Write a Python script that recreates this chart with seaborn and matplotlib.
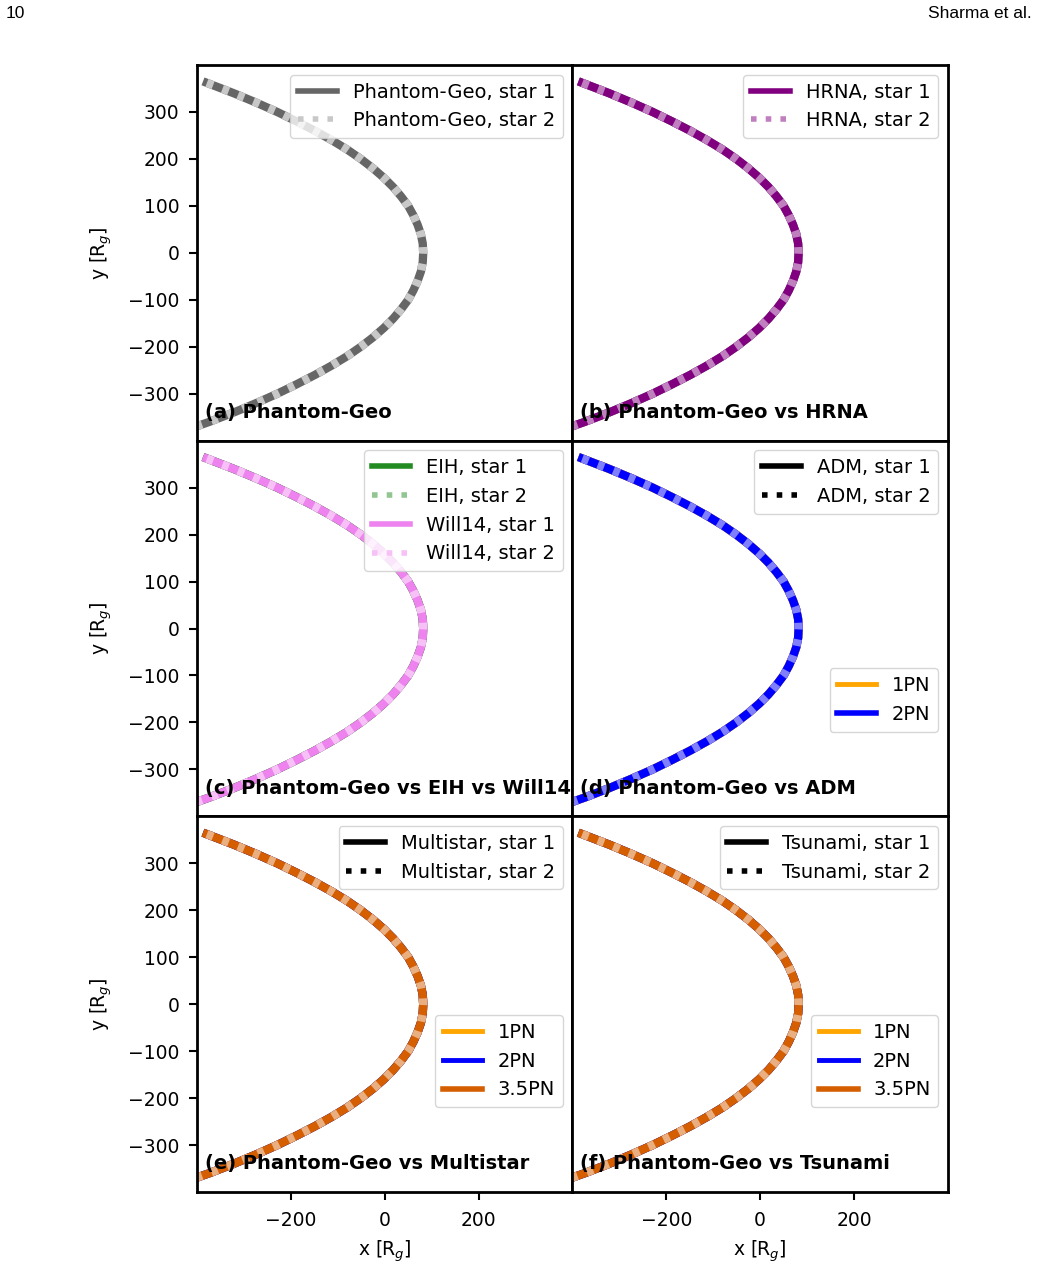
import matplotlib
matplotlib.use("Agg")
import matplotlib.pyplot as plt
from matplotlib.lines import Line2D
import seaborn as sns

plt.rcParams['font.family'] = ['DejaVu Sans']
plt.rcParams['font.size'] = 13.5
plt.rcParams['axes.linewidth'] = 2
plt.rcParams['xtick.major.size'] = 5.5
plt.rcParams['ytick.major.size'] = 5.5
plt.rcParams['xtick.major.width'] = 1.5
plt.rcParams['ytick.major.width'] = 1.5
plt.rcParams['xtick.major.pad'] = 8.5
plt.rcParams['ytick.major.pad'] = 7
plt.rcParams['legend.fontsize'] = 14

# orbit (same track for every code, star 1 and star 2 overlap)
x_orbit = [-379, -322, -274, -229, -188, -149, -113, -80, -51, -25, -2, 18, 35, 50, 61, 70, 77, 81,
           82,
           81, 77, 70, 61, 50, 35, 18, -2, -25, -51, -80, -113, -149, -188, -229, -274, -322, -374,
           -431]
y_orbit = [362, 340, 320, 300, 280, 260, 240, 220, 200, 180, 160, 140, 120, 100, 80, 60, 40, 20,
           0,
           -20, -40, -60, -80, -100, -120, -140, -160, -180, -200, -220, -240, -260, -280, -300,
           -320, -340, -360, -380]

panel_labels = ['(a) Phantom-Geo', '(b) Phantom-Geo vs HRNA',
                '(c) Phantom-Geo vs EIH vs Will14', '(d) Phantom-Geo vs ADM',
                '(e) Phantom-Geo vs Multistar', '(f) Phantom-Geo vs Tsunami']
x_ticks = [-200, 0, 200]
y_ticks = [-300, -200, -100, 0, 100, 200, 300]

GEO, GEO2 = '#666666', '#c8c8c8'
HRNA, HRNA2 = '#800080', '#c080c0'
EIH, EIH2 = '#228b22', '#91c591'
WILL, WILL2 = '#ee82ee', '#f7c1f7'
PN1, PN1_2 = '#ffa500', '#ffd280'
PN2, PN2_2 = '#0000ff', '#8080ff'
PN35, PN35_2 = '#d55e00', '#eaaf80'

LW = 6
DOTS = (0, (0.8, 1.2))


def pair(ax, c1, c2):
    sns.lineplot(x=x_orbit, y=y_orbit, sort=False, estimator=None,
                 color=c1, linewidth=LW, ax=ax)
    sns.lineplot(x=x_orbit, y=y_orbit, sort=False, estimator=None,
                 color=c2, linewidth=LW, linestyle=DOTS, ax=ax)


def h(color, ls='-', lw=4):
    return Line2D([], [], color=color, linestyle=ls, linewidth=lw)


fig, axes = plt.subplots(3, 2, sharex=True, sharey=True, figsize=(10.37, 12.7), dpi=100,
                         gridspec_kw=dict(left=0.19, right=0.914, top=0.9488, bottom=0.0614,
                                          wspace=0, hspace=0))
ax_a, ax_b, ax_c, ax_d, ax_e, ax_f = axes.flatten()

# (a)
pair(ax_a, GEO, GEO2)
ax_a.legend([h(GEO), h(GEO2, ':')], ['Phantom-Geo, star 1', 'Phantom-Geo, star 2'],
            loc='upper right')

# (b)
pair(ax_b, GEO, GEO2)
pair(ax_b, HRNA, HRNA2)
ax_b.legend([h(HRNA), h(HRNA2, ':')], ['HRNA, star 1', 'HRNA, star 2'], loc='upper right')

# (c)
pair(ax_c, GEO, GEO2)
pair(ax_c, EIH, EIH2)
pair(ax_c, WILL, WILL2)
ax_c.legend([h(EIH), h(EIH2, ':'), h(WILL), h(WILL2, ':')],
            ['EIH, star 1', 'EIH, star 2', 'Will14, star 1', 'Will14, star 2'],
            loc='upper right')

# (d)
pair(ax_d, GEO, GEO2)
pair(ax_d, PN1, PN1_2)
pair(ax_d, PN2, PN2_2)
leg = ax_d.legend([h('k'), h('k', ':')], ['ADM, star 1', 'ADM, star 2'], loc='upper right')
ax_d.add_artist(leg)
ax_d.legend([h(PN1, lw=3.5), h(PN2)], ['1PN', '2PN'], loc='lower right',
            bbox_to_anchor=(1, 0.2))

# (e), (f)
for ax, name in [(ax_e, 'Multistar'), (ax_f, 'Tsunami')]:
    pair(ax, GEO, GEO2)
    pair(ax, PN1, PN1_2)
    pair(ax, PN2, PN2_2)
    pair(ax, PN35, PN35_2)
    leg = ax.legend([h('k'), h('k', ':')], [f'{name}, star 1', f'{name}, star 2'],
                    loc='upper right')
    ax.add_artist(leg)
    ax.legend([h(PN1, lw=3.5), h(PN2, lw=3.5), h(PN35)], ['1PN', '2PN', '3.5PN'],
              loc='lower right', bbox_to_anchor=(1, 0.2))

for i, ax in enumerate(axes.flatten()):
    ax.set_xlim(-400, 400)
    ax.set_ylim(-400, 400)
    ax.set_xticks(x_ticks)
    ax.set_yticks(y_ticks)
    ax.text(0.02, 0.05, panel_labels[i], transform=ax.transAxes, fontsize=14,
            fontweight='bold', va='bottom', ha='left', zorder=10)
    ax.set_xlabel('')
    ax.set_ylabel('')
    if i % 2 == 1:
        ax.tick_params(left=False)
    else:
        ax.set_ylabel('y [R$_g$]', labelpad=10)
    if i < 4:
        ax.tick_params(bottom=False)
    else:
        ax.set_xlabel('x [R$_g$]', labelpad=6)

fig.text(0.005, 1 - 14 / 1270, '10', fontsize=12.5, family='Liberation Sans',
         ha='left', va='center')
fig.text(0.995, 1 - 14 / 1270, 'Sharma et al.', fontsize=12.5, family='Liberation Sans',
         ha='right', va='center')

fig.savefig('out.png', dpi=100)
